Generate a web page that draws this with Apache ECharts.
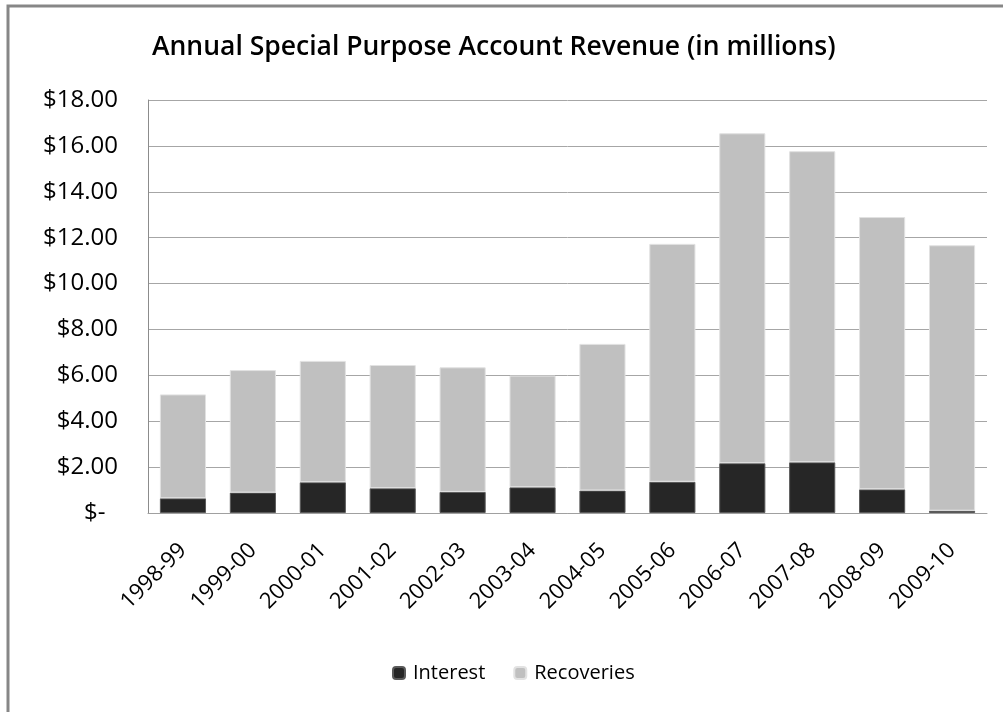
<!DOCTYPE html>
<html>
<head>
<meta charset="utf-8">
<script src="https://cdn.jsdelivr.net/npm/echarts@6/dist/echarts.min.js"></script>
<style>
  html, body { margin: 0; padding: 0; background: #fff; }
  #chart { width: 1003px; height: 712px; }
</style>
</head>
<body>
<div id="chart"></div>
<script>
// values, in millions
var years = ['1998-99', '1999-00', '2000-01', '2001-02', '2002-03', '2003-04',
             '2004-05', '2005-06', '2006-07', '2007-08', '2008-09', '2009-10']
var interest = [0.64, 0.89, 1.34, 1.08, 0.92, 1.12, 0.98, 1.36, 2.17, 2.21, 1.03, 0.10]
var recoveries = [4.53, 5.34, 5.29, 5.37, 5.43, 4.87, 6.39, 10.37, 14.38, 13.56, 11.87, 11.57]

var font = '"Open Sans", Lato, sans-serif'
var chart = echarts.init(document.getElementById('chart'))

chart.setOption({
  animation: false,
  title: {
    text: 'Annual Special Purpose Account Revenue (in millions)',
    left: 147,
    top: 29,
    textStyle: { fontFamily: font, fontSize: 26.5, fontWeight: 600, color: '#000' }
  },
  graphic: [{
    type: 'rect',
    shape: { x: 8, y: 6, width: 1100, height: 800 },
    style: { fill: 'none', stroke: '#878787', lineWidth: 3 },
    silent: true
  }],
  grid: {
    left: 148,
    right: 16,
    top: 100,
    bottom: 199
  },
  legend: {
    data: ['Interest', 'Recoveries'],
    bottom: 24,
    left: 387,
    itemWidth: 12,
    itemHeight: 12,
    itemGap: 28,
    textStyle: { fontFamily: font, fontSize: 20, color: '#000', padding: [0, 0, 0, 3] }
  },
  xAxis: {
    type: 'category',
    data: years,
    axisLine: { lineStyle: { color: '#a0a0a0', width: 1 } },
    axisTick: { show: false },
    axisLabel: {
      rotate: 45,
      margin: 34,
      fontFamily: font,
      fontSize: 22,
      color: '#000'
    }
  },
  yAxis: {
    type: 'value',
    min: 0,
    max: 18,
    interval: 2,
    axisLine: { show: true, lineStyle: { color: '#8c8c8c', width: 1 } },
    axisTick: { show: false },
    splitLine: { lineStyle: { color: '#a6a6a6', width: 1 } },
    axisLabel: {
      margin: 30,
      fontFamily: font,
      fontSize: 24,
      color: '#000',
      formatter: function (v) {
        return v === 0 ? '$-  ' : '$' + v.toFixed(2)
      }
    }
  },
  series: [{
    name: 'Interest',
    type: 'bar',
    stack: 'total',
    barWidth: '66%',
    data: interest,
    itemStyle: { color: '#262626', borderColor: '#5a5a5a', borderWidth: 1 }
  }, {
    name: 'Recoveries',
    type: 'bar',
    stack: 'total',
    barWidth: '66%',
    data: recoveries,
    itemStyle: { color: '#c0c0c0', borderColor: '#e2e2e2', borderWidth: 1 }
  }]
})
</script>
</body>
</html>
